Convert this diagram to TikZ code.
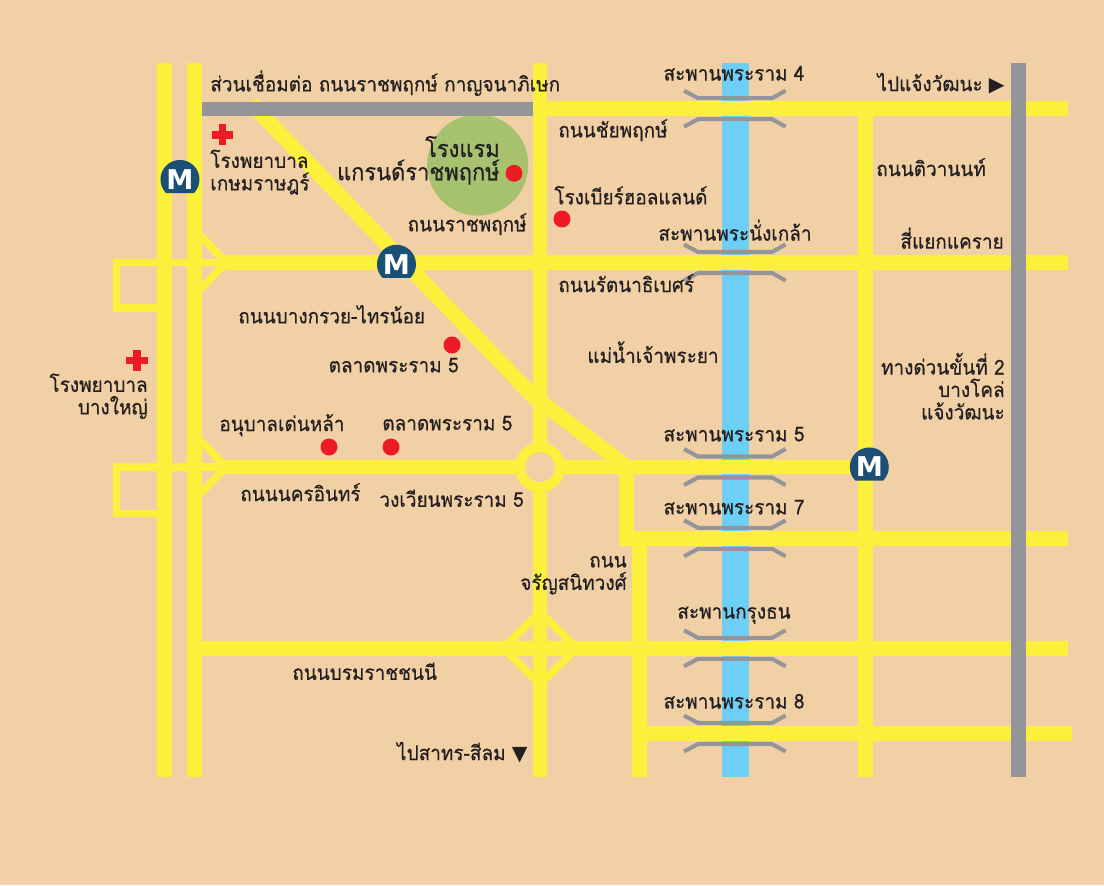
\documentclass[tikz,border=0pt]{standalone}
\usepackage{fontspec}
\setmainfont[Script=Thai,FakeStretch=0.93,FakeBold=0.5]{Loma}
\newfontfamily\symfont{DejaVu Sans}

\definecolor{sand}{HTML}{F2D0A5}
\definecolor{roadyellow}{HTML}{FBF03C}
\definecolor{tollgrey}{HTML}{939598}
\definecolor{riverblue}{HTML}{6DCFF6}
\definecolor{parkgreen}{HTML}{A6C26F}
\definecolor{metroblue}{HTML}{1C4F75}
\definecolor{spotred}{HTML}{ED1C24}
\definecolor{inkdark}{HTML}{231F20}

\tikzset{
  road/.style={draw=roadyellow,line width=8.5pt},
  ramp/.style={draw=roadyellow,line width=4.3pt},
  toll/.style={draw=tollgrey,line width=8.5pt},
  bridgeline/.style={draw=tollgrey,line width=2.3pt},
  spot/.style={fill=spotred},
  place/.style={text=inkdark,inner sep=0pt,yshift=1pt,font=\fontsize{11.6}{12.8}\selectfont},
  metro/.pic={
    \fill [metroblue] (14,-13.5) arc (-44:224:19.5) -- cycle;
    \node [text=white,inner sep=0pt,font=\symfont\bfseries\fontsize{15.5}{15.5}\selectfont] at (0,0) {M};
  }
}

\begin{document}
\begin{tikzpicture}[x=0.02cm,y=0.02cm]
  \fill [sand] (0,0) rectangle (1104,-885);
  \useasboundingbox (0,0) rectangle (1104,-885);

  % river and park
  \fill [riverblue] (722.4,-63) rectangle (748.8,-777);
  \fill [parkgreen] (477.7,-165) circle (50.6);

  % bridges
  \foreach \y in {108.7,262.5,467,538.3,648.3,733.5} {
    \draw [bridgeline] (684,-\y+18) -- (698,-\y+10.5) -- (772,-\y+10.5) -- (785.6,-\y+18);
    \draw [bridgeline] (684,-\y-18) -- (698,-\y-10.5) -- (772,-\y-10.5) -- (785.6,-\y-18);
  }

  % side loops on the left
  \draw [ramp,line join=miter] (157,-308) -- (116.4,-308) -- (116.4,-262.5) -- (226,-262.5);
  \draw [ramp] (201,-236) -- (226,-262.5) -- (201,-289);
  \draw [ramp,line join=miter] (157,-513.6) -- (116.6,-513.6) -- (116.6,-467) -- (226,-467);
  \draw [ramp] (201,-441) -- (226,-467) -- (201,-493);

  % vertical roads
  \draw [road] (164.8,-63) -- (164.8,-777);
  \draw [road] (194.2,-63) -- (194.2,-777);
  \draw [road] (540,-63) -- (540,-777);
  \draw [road] (865.5,-108) -- (865.5,-777);
  \draw [road] (639.5,-538) -- (639.5,-777);

  % horizontal roads
  \draw [road] (540,-108.7) -- (1068,-108.7);
  \draw [road] (226,-262.5) -- (1068,-262.5);
  \draw [road] (226,-467) -- (865,-467);
  \draw [road] (194,-648.3) -- (1068,-648.3);
  \draw [road] (639.5,-733.5) -- (1072,-733.5);
  \draw [road,line join=miter] (626.5,-467) -- (626.5,-538.3) -- (1068,-538.3);

  % diagonal road
  \draw [road,line join=round] (251,-103.5) -- (533,-396) -- (627,-467);

  % interchange and roundabout
  \draw [ramp,line join=miter] (540,-612) -- (503,-648.3) -- (540,-684) -- (577,-648.3) -- cycle;
  \draw [draw=roadyellow,fill=sand,line width=5.7pt] (540,-467.3) circle (20);

  % expressways
  \fill [tollgrey] (202,-101.7) rectangle (532.7,-116);
  \draw [toll] (1018.7,-63) -- (1018.7,-777);

  % spots
  \fill [spot] (514,-173.3) circle (8.5);
  \fill [spot] (562,-219) circle (8.5);
  \fill [spot] (452,-345) circle (8.5);
  \fill [spot] (329,-447) circle (8.5);
  \fill [spot] (391,-447) circle (8.5);

  % hospitals
  \fill [spot] (218.7,-124) rectangle (226.3,-145.3);
  \fill [spot] (212,-131) rectangle (233.3,-138.6);
  \fill [spot] (133,-350) rectangle (140.6,-370.7);
  \fill [spot] (126,-356.5) rectangle (147.5,-364.1);

  % metro stations
  \pic at (180,-179.5) {metro};
  \pic at (396.5,-264.3) {metro};
  \pic at (869.3,-467) {metro};

  % places
  \node [place,anchor=west] (linkroad) at (210,-85) {ส่วนเชื่อมต่อ ถนนราชพฤกษ์ กาญจนาภิเษก};
  \node [place] (ramafour) at (734,-75) {สะพานพระราม 4};
  \node [place,anchor=east] (tochaeng) at (1005,-85) {ไปแจ้งวัฒนะ {\symfont ▶}};
  \node [place,anchor=west] (chaiyaphruek) at (558,-132) {ถนนชัยพฤกษ์};
  \node [place,anchor=north west,align=left] (kasemrad) at (210,-151) {โรงพยาบาล\\เกษมราษฎร์};
  \node [place,anchor=east,align=right,font=\fontsize{13.4}{13.2}\selectfont] (hotel) at (500,-162) {โรงแรม\\แกรนด์ราชพฤกษ์};
  \node [place,anchor=east] (ratchaphruek) at (527,-226) {ถนนราชพฤกษ์};
  \node [place,anchor=west] (brewery) at (554,-197) {โรงเบียร์ฮอลแลนด์};
  \node [place,anchor=west] (tiwanon) at (876,-169) {ถนนติวานนท์};
  \node [place] (nangklao) at (735,-232) {สะพานพระนั่งเกล้า};
  \node [place,anchor=east] (khae) at (1004,-240) {สี่แยกแคราย};
  \node [place,anchor=west] (rattanathibet) at (558,-285) {ถนนรัตนาธิเบศร์};
  \node [place,anchor=west] (bangkruai) at (238,-316) {ถนนบางกรวย-ไทรน้อย};
  \node [place,anchor=east] (marketa) at (459,-367) {ตลาดพระราม 5};
  \node [place] (chaophraya) at (653,-354) {แม่น้ำเจ้าพระยา};
  \node [place,anchor=east,align=right] (bangyai) at (148,-398) {โรงพยาบาล\\บางใหญ่};
  \node [place,anchor=east,align=right] (expressway) at (1005,-388) {ทางด่วนขั้นที่ 2\\บางโคล่\\แจ้งวัฒนะ};
  \node [place,anchor=west] (nursery) at (219,-427) {อนุบาลเด่นหล้า};
  \node [place,anchor=west] (marketb) at (382,-425) {ตลาดพระราม 5};
  \node [place] (ramafive) at (734,-436) {สะพานพระราม 5};
  \node [place,anchor=west] (nakhonin) at (240,-494) {ถนนนครอินทร์};
  \node [place,anchor=east] (circle) at (524,-500) {วงเวียนพระราม 5};
  \node [place] (ramaseven) at (734,-509) {สะพานพระราม 7};
  \node [place,anchor=east,align=right] (charan) at (627,-577) {ถนน\\จรัญสนิทวงศ์};
  \node [place] (krungthon) at (734,-617) {สะพานกรุงธน};
  \node [place,anchor=west] (borom) at (292,-673) {ถนนบรมราชชนนี};
  \node [place] (ramaeight) at (734,-703) {สะพานพระราม 8};
  \node [place,anchor=east] (tosathon) at (528,-754) {ไปสาทร-สีลม {\symfont ▼}};
\end{tikzpicture}
\end{document}
